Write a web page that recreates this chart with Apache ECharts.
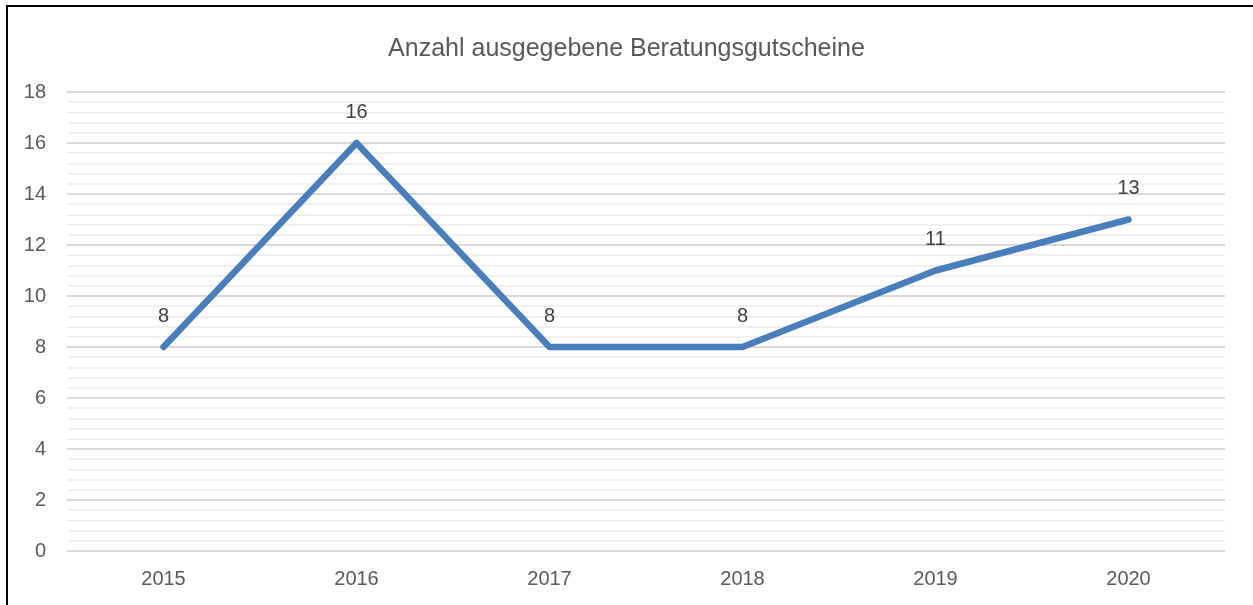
<!DOCTYPE html>
<html><head><meta charset="utf-8">
<script src="https://cdn.jsdelivr.net/npm/echarts@6/dist/echarts.min.js"></script>
<style>
html,body{margin:0;padding:0;background:#fff;}
#frame{position:absolute;left:6px;top:5px;width:1260px;height:620px;border-left:2px solid #000;border-top:2px solid #000;}
#c{position:absolute;left:0;top:0;width:1253px;height:605px;}
</style></head>
<body>
<div id="frame"></div>
<div id="c"></div>
<script>
const titleText = 'Anzahl ausgegebene Beratungsgutscheine';
const years = ['2015','2016','2017','2018','2019','2020'];
const counts = [8,16,8,8,11,13];
const FONT = '"Liberation Sans Narrow","Arial Narrow","Liberation Sans",Arial,sans-serif';
const chart = echarts.init(document.getElementById('c'));
chart.setOption({
  backgroundColor: 'transparent',
  animation: false,
  title: {text: titleText, left: 'center', top: 32, textStyle: {fontFamily: FONT, fontSize: 25, fontWeight: 'normal', color: '#595959'}},
  grid: {left: 67, right: 28, top: 92, bottom: 54},
  xAxis: {type: 'category', data: years, boundaryGap: true,
    axisLine: {show: false}, axisTick: {show: false},
    axisLabel: {fontFamily: FONT, fontSize: 20, color: '#595959', margin: 18}},
  yAxis: {type: 'value', min: 0, max: 18, interval: 2,
    axisLine: {show: false}, axisTick: {show: false},
    axisLabel: {fontFamily: FONT, fontSize: 20, color: '#595959', margin: 21},
    splitLine: {lineStyle: {color: '#d9d9d9', width: 2}},
    minorTick: {show: false, splitNumber: 5},
    minorSplitLine: {show: true, lineStyle: {color: '#f0f0f0', width: 2}}},
  series: [{type: 'line', data: counts, symbol: 'circle', symbolSize: 0, showSymbol: true,
    itemStyle: {color: '#4a7ebb'},
    lineStyle: {color: '#4a7ebb', width: 6.5, cap: 'round', join: 'round'},
    label: {show: true, position: 'top', distance: 21, fontFamily: FONT, fontSize: 20, color: '#404040'}}]
});
</script>
</body></html>
